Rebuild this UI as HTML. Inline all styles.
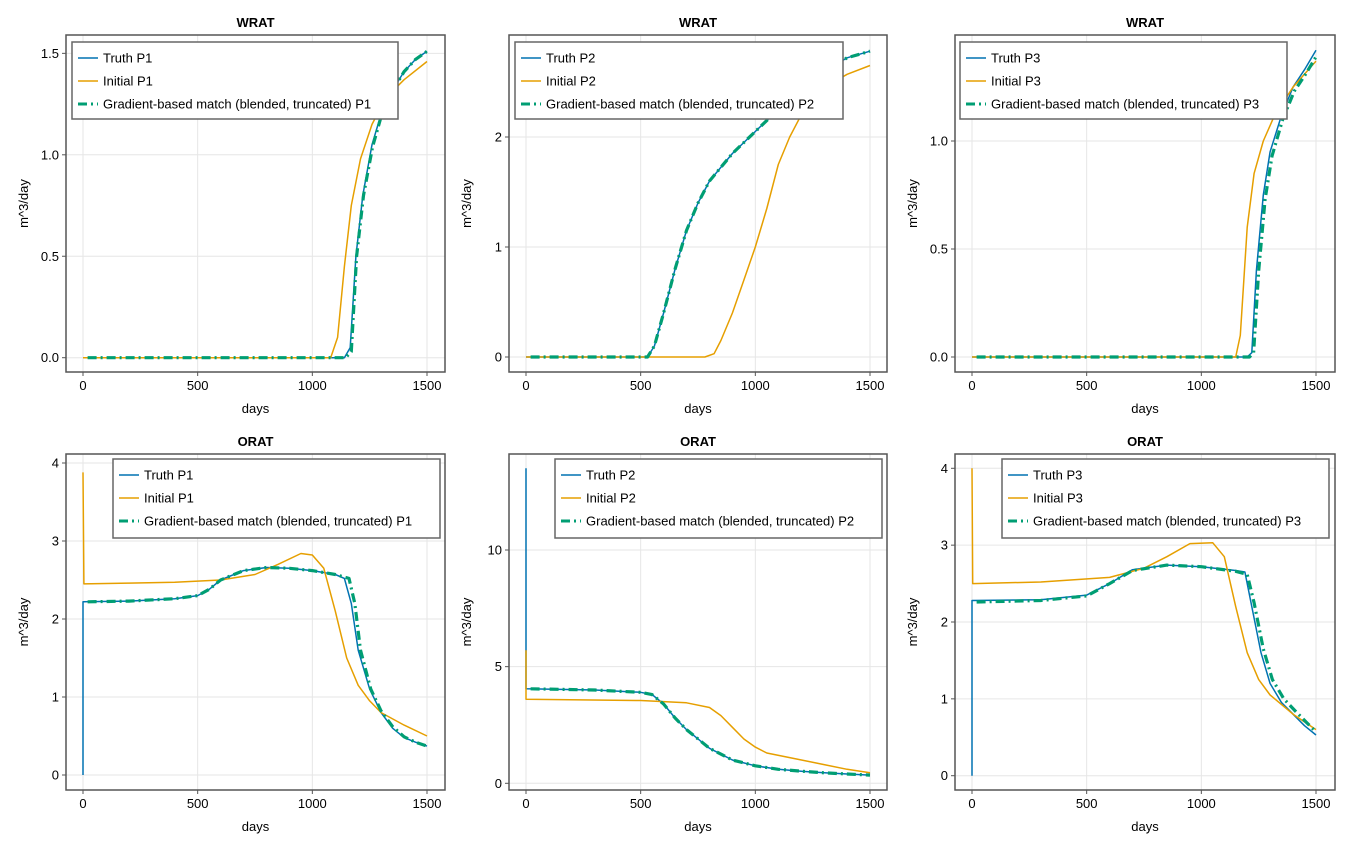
<!DOCTYPE html>
<html><head><meta charset="utf-8"><style>
html,body{margin:0;padding:0;background:#fff}
svg{display:block;font-family:"Liberation Sans",Arial,sans-serif}
</style></head><body>
<svg id="s" width="1350" height="850" xmlns="http://www.w3.org/2000/svg"></svg>
<script>
const S=document.getElementById('s');let h='';
const B='#0072B2',O='#E69F00',G='#009E73';
const panels=[
{L:66,R:445,T:35,Bt:372,x0:83,x1:427,yz:357.7,yu:202.9,ticks:[[0,'0.0'],[0.5,'0.5'],[1,'1.0'],[1.5,'1.5']],title:'WRAT',p:'P1',
 leg:[72,42,398,119],
 tr:[[0,0],[1140,0],[1165,0.05],[1190,0.5],[1220,0.8],[1260,1.05],[1300,1.2],[1350,1.32],[1400,1.41],[1450,1.47],[1500,1.51]],
 ini:[[0,0],[1080,0],[1110,0.1],[1140,0.45],[1170,0.75],[1210,0.98],[1260,1.15],[1320,1.28],[1400,1.37],[1500,1.46]],
 m:[[20,0],[1145,0],[1170,0.03],[1193,0.5],[1223,0.8],[1263,1.04],[1303,1.2],[1352,1.32],[1400,1.41],[1450,1.47],[1500,1.51]]},
{L:509,R:887,T:35,Bt:372,x0:526,x1:870,yz:357,yu:110,ticks:[[0,'0'],[1,'1'],[2,'2']],title:'WRAT',p:'P2',
 leg:[515,42,843,119],
 tr:[[0,0],[530,0],[560,0.1],[600,0.4],[650,0.8],[700,1.15],[750,1.4],[800,1.6],[900,1.85],[1000,2.05],[1100,2.25],[1200,2.45],[1300,2.6],[1400,2.72],[1500,2.78]],
 ini:[[0,0],[780,0],[820,0.03],[850,0.15],[900,0.4],[950,0.7],[1000,1.0],[1050,1.35],[1100,1.75],[1150,2.0],[1200,2.2],[1300,2.45],[1400,2.57],[1500,2.65]],
 m:[[20,0],[530,0],[560,0.1],[600,0.4],[650,0.8],[700,1.15],[750,1.4],[800,1.6],[900,1.85],[1000,2.05],[1100,2.25],[1200,2.45],[1300,2.6],[1400,2.72],[1500,2.78]]},
{L:955,R:1335,T:35,Bt:372,x0:972,x1:1316,yz:357,yu:216,ticks:[[0,'0.0'],[0.5,'0.5'],[1,'1.0']],title:'WRAT',p:'P3',
 leg:[960,42,1287,119],
 tr:[[0,0],[1200,0],[1220,0.02],[1240,0.4],[1270,0.75],[1300,0.95],[1350,1.12],[1400,1.25],[1450,1.33],[1500,1.42]],
 ini:[[0,0],[1150,0],[1170,0.1],[1200,0.6],[1230,0.85],[1270,1.0],[1320,1.12],[1400,1.25],[1500,1.37]],
 m:[[20,0],[1210,0],[1228,0.02],[1250,0.4],[1278,0.73],[1308,0.93],[1355,1.1],[1405,1.23],[1455,1.31],[1500,1.39]]},
{L:66,R:445,T:454,Bt:790,x0:83,x1:427,yz:775,yu:78,ticks:[[0,'0'],[1,'1'],[2,'2'],[3,'3'],[4,'4']],title:'ORAT',p:'P1',
 leg:[113,459,440,538],
 tr:[[0,0],[0,2.22],[200,2.23],[400,2.26],[500,2.3],[550,2.38],[600,2.5],[700,2.62],[800,2.66],[900,2.65],[1000,2.62],[1100,2.57],[1140,2.52],[1170,2.2],[1200,1.6],[1250,1.1],[1300,0.8],[1350,0.6],[1400,0.48],[1450,0.42],[1500,0.37]],
 ini:[[0,3.88],[4,2.45],[200,2.46],[400,2.47],[600,2.5],[750,2.57],[850,2.7],[950,2.84],[1000,2.82],[1050,2.65],[1100,2.1],[1150,1.5],[1200,1.15],[1250,0.95],[1300,0.8],[1400,0.64],[1500,0.5]],
 m:[[20,2.22],[200,2.23],[400,2.26],[500,2.3],[550,2.38],[600,2.5],[700,2.62],[800,2.66],[900,2.65],[1000,2.62],[1100,2.57],[1160,2.52],[1185,2.2],[1210,1.6],[1255,1.1],[1300,0.82],[1350,0.62],[1400,0.49],[1450,0.42],[1500,0.37]]},
{L:509,R:887,T:454,Bt:790,x0:526,x1:870,yz:783.3,yu:23.33,ticks:[[0,'0'],[5,'5'],[10,'10']],title:'ORAT',p:'P2',
 leg:[555,459,882,538],
 tr:[[0,13.5],[0,4.05],[300,4.0],[500,3.9],[550,3.8],[600,3.4],[650,2.8],[700,2.3],[800,1.5],[900,1.0],[1000,0.75],[1100,0.6],[1200,0.52],[1300,0.45],[1400,0.4],[1500,0.35]],
 ini:[[0,5.7],[0,3.6],[500,3.55],[700,3.45],[800,3.25],[850,2.9],[900,2.4],[950,1.9],[1000,1.55],[1050,1.3],[1150,1.1],[1300,0.8],[1400,0.6],[1500,0.45]],
 m:[[20,4.05],[300,4.0],[500,3.9],[550,3.8],[600,3.4],[650,2.8],[700,2.3],[800,1.5],[900,1.0],[1000,0.75],[1100,0.6],[1200,0.52],[1300,0.45],[1400,0.4],[1500,0.35]]},
{L:955,R:1335,T:454,Bt:790,x0:972,x1:1316,yz:775.7,yu:76.85,ticks:[[0,'0'],[1,'1'],[2,'2'],[3,'3'],[4,'4']],title:'ORAT',p:'P3',
 leg:[1002,459,1329,538],
 tr:[[0,0],[0,2.28],[300,2.29],[500,2.35],[600,2.5],[700,2.68],[850,2.74],[1000,2.72],[1150,2.67],[1190,2.65],[1220,2.2],[1260,1.6],[1300,1.2],[1350,0.95],[1400,0.8],[1450,0.65],[1500,0.53]],
 ini:[[0,4.0],[3,2.5],[300,2.52],[600,2.58],[750,2.7],[850,2.85],[950,3.02],[1050,3.03],[1100,2.85],[1150,2.2],[1200,1.6],[1250,1.25],[1300,1.05],[1400,0.8],[1500,0.6]],
 m:[[20,2.26],[300,2.28],[500,2.34],[600,2.5],[700,2.67],[850,2.74],[1000,2.72],[1150,2.66],[1200,2.62],[1230,2.25],[1270,1.65],[1310,1.25],[1360,1.0],[1410,0.84],[1460,0.69],[1500,0.57]]}
];
for(const P of panels){
 const X=v=>P.x0+(P.x1-P.x0)*v/1500, Y=v=>P.yz-P.yu*v;
 const cx=(P.L+P.R)/2;
 h+=`<text x="${cx}" y="${P.T-8}" text-anchor="middle" font-size="13" font-weight="bold">${P.title}</text>`;
 for(const v of [0,500,1000,1500]){const x=X(v);
  h+=`<line x1="${x}" x2="${x}" y1="${P.T}" y2="${P.Bt}" stroke="#e6e6e6"/>`;
  h+=`<line x1="${x}" x2="${x}" y1="${P.Bt}" y2="${P.Bt+4}" stroke="#555"/>`;
  h+=`<text x="${x}" y="${P.Bt+18}" text-anchor="middle" font-size="13">${v}</text>`;}
 for(const [v,l] of P.ticks){const y=Y(v);
  h+=`<line x1="${P.L}" x2="${P.R}" y1="${y}" y2="${y}" stroke="#e6e6e6"/>`;
  h+=`<line x1="${P.L-4}" x2="${P.L}" y1="${y}" y2="${y}" stroke="#555"/>`;
  h+=`<text x="${P.L-7}" y="${y+4.5}" text-anchor="end" font-size="13">${l}</text>`;}
 h+=`<text x="${cx}" y="${P.Bt+41}" text-anchor="middle" font-size="13">days</text>`;
 const lx=P.L-38, ly=(P.T+P.Bt)/2;
 h+=`<text transform="translate(${lx},${ly}) rotate(-90)" text-anchor="middle" font-size="13">m^3/day</text>`;
 const pl=(a,c,w,d)=>`<polyline fill="none" stroke="${c}" stroke-width="${w}" ${d?'stroke-dasharray="'+d+'"':''} stroke-linejoin="round" points="${a.map(p=>X(p[0]).toFixed(1)+','+Y(p[1]).toFixed(1)).join(' ')}"/>`;
 h+=`<svg x="${P.L}" y="${P.T}" width="${P.R-P.L}" height="${P.Bt-P.T}" overflow="hidden"><g transform="translate(${-P.L},${-P.T})">`;
 h+=pl(P.tr,B,1.5)+pl(P.ini,O,1.5)+pl(P.m,G,3.2,'9,4,2,4');
 h+=`</g></svg>`;
 h+=`<rect x="${P.L}" y="${P.T}" width="${P.R-P.L}" height="${P.Bt-P.T}" fill="none" stroke="#555" stroke-width="1.5"/>`;
 const [a,b,c,d]=P.leg;
 h+=`<rect x="${a}" y="${b}" width="${c-a}" height="${d-b}" fill="#fff" stroke="#666" stroke-width="1.5"/>`;
 const rows=[['Truth '+P.p,B,1.5,''],['Initial '+P.p,O,1.5,''],['Gradient-based match (blended, truncated) '+P.p,G,3,'9,4,2,4']];
 rows.forEach((r,i)=>{const y=b+16+i*23;
  h+=`<line x1="${a+6}" x2="${a+26}" y1="${y}" y2="${y}" stroke="${r[1]}" stroke-width="${r[2]}" ${r[3]?'stroke-dasharray="'+r[3]+'"':''}/>`;
  h+=`<text x="${a+31}" y="${y+4.5}" font-size="13">${r[0]}</text>`;});
}
S.innerHTML=h;
</script>
</body></html>
